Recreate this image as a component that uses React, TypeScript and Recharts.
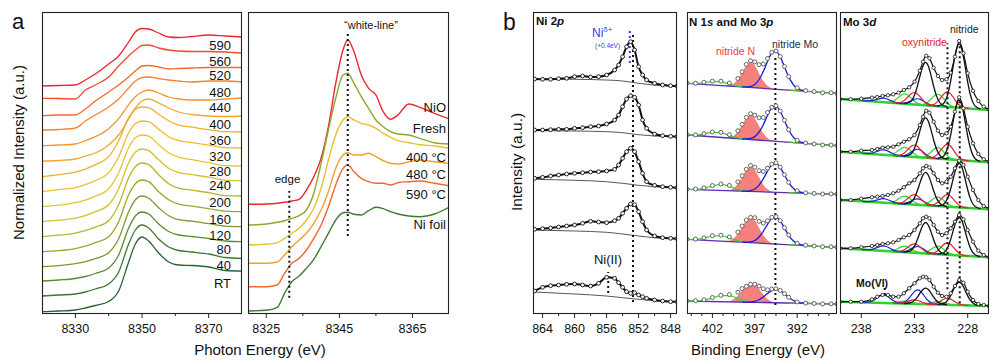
import React from 'react';
import { ComposedChart, Line, Area, XAxis, YAxis } from 'recharts';

const FONT = '"Liberation Sans", Arial, Helvetica, sans-serif';
const TOP = 12;
const H = 301;
const PAD = 14;

// ---- a (left): in situ Ni K-edge XANES vs temperature, stacked ----
const xanesE = [8320, 8325, 8330, 8333, 8336, 8340, 8343, 8346, 8348, 8350, 8352, 8355, 8358, 8361, 8365, 8370, 8375, 8380];
const tempNames = ['RT', '40', '80', '120', '160', '200', '240', '280', '320', '360', '400', '440', '480', '520', '560', '590'];
const tempShift = [1.3, 17, 32, 46.3, 61.3, 76.3, 91.3, 106.3, 121.3, 136.3, 152, 167.3, 183, 197.3, 214.7, 227];
const tempCurves = [
  [0, 0.7, 1.7, 3.7, 6.2, 10.2, 20.7, 49.7, 67.7, 74.7, 70.7, 58.7, 49.7, 46.7, 46.2, 44.7, 41.2, 40.7],
  [0, 1, 2, 4, 7, 12, 24, 52, 66, 71, 68, 57, 49, 45.5, 44, 42, 38.5, 37.7],
  [0, 1, 2.5, 4.5, 7.5, 13, 26, 53, 65, 69, 67, 57, 49.5, 46, 44.5, 42.5, 40, 39.3],
  [0, 1, 3, 5, 8, 14, 28, 55, 67, 70.7, 68.5, 59, 51, 47, 45.5, 43, 40.5, 40],
  [0, 1, 3, 5.5, 9, 15, 30, 57, 68, 71.7, 70, 60, 52, 47.5, 45.5, 43, 40.5, 40],
  [0, 1.5, 3.5, 6, 9.5, 16, 32, 59, 70, 73.7, 72, 62, 53, 48.5, 46.5, 44, 41, 40.7],
  [0, 1.5, 3.5, 6, 10, 17, 33, 59, 69.5, 72.7, 71, 62, 53.5, 49, 47, 44.5, 41.5, 41],
  [0, 1.5, 4, 6.5, 10.5, 18, 34, 59, 69, 71.7, 70.5, 62, 54, 49.5, 47, 44, 41, 40.7],
  [0, 2, 4, 7, 11, 19, 35, 59, 68, 70.7, 70, 62.5, 55, 51, 49, 46.5, 44, 43.7],
  [0, 2, 4.5, 7.5, 12, 20, 36, 59, 67.5, 69.7, 69, 62.5, 56, 51.5, 49.5, 47, 45, 44.7],
  [0, 0.5, 2, 5, 8, 16, 26, 42, 53, 60, 62, 58, 53, 49, 46.5, 45, 44.5, 45],
  [0, 0.7, 1.7, 5, 9, 17, 27, 41, 49, 53.7, 55.7, 52.7, 48.7, 46.7, 45.7, 45.7, 46.7, 47.7],
  [0, 0.5, 2, 9, 15, 23, 31, 42, 49, 52.5, 53, 51.5, 50, 49, 48, 49, 49, 48],
  [0, 0.7, 0.7, 6.7, 14.7, 23.7, 30.7, 38.7, 44.7, 49.7, 50.2, 48.7, 46.7, 47.2, 47.7, 48.2, 48.2, 48.2],
  [0, -0.2, -0.7, 8.3, 13.3, 21.3, 32.3, 42.3, 48.3, 52.8, 53.3, 50.3, 48.3, 47.3, 46.8, 46.8, 46.3, 45.3],
  [0, 0.5, 1, 6, 12, 22, 30, 44, 54, 57.5, 57, 53, 49, 48.5, 49.5, 51, 50, 49],
];
const tempColors = ['#2a6332', '#3f7730', '#5c8a2e', '#7a9a2c', '#97a92c', '#b6b72c', '#d3c22c', '#e6c62c', '#edbd2c', '#f0b12c', '#f3a52c', '#f4962c', '#f4842d', '#f36a2f', '#ef4c30', '#ea2630'];
const tempLabelY = [283.3, 265.7, 249.3, 235, 219, 202.7, 185.7, 171.7, 156.7, 140, 124, 107.7, 92.7, 75, 61.7, 45.7];

// ---- a (right): references and selected temperatures ----
const refE = [8320, 8325, 8328, 8330, 8332, 8334, 8336, 8338, 8340, 8342, 8344, 8346, 8347.3, 8349, 8351, 8353, 8355, 8357, 8359, 8361, 8364, 8367, 8371, 8375];
const refNames = ['NiO', 'Fresh', '400 °C', '480 °C', '590 °C', 'Ni foil'];
const refCurves = [
  [108.7, 109, 109.7, 110.7, 112, 113.7, 123, 136.3, 154.7, 186.3, 229.7, 263, 273, 261.3, 238, 224.7, 218, 201.3, 193.7, 198, 209, 205.7, 199.7, 194.3],
  [88, 89, 90.7, 92.3, 94.7, 97.3, 103, 119.7, 149.7, 183, 214.7, 238, 239.7, 229.7, 216.3, 204.7, 193, 186.3, 181.3, 179, 178, 174.7, 170.3, 169],
  [68, 68.7, 70.3, 74.7, 79.7, 84.7, 93, 104.7, 124.7, 153, 178, 193, 196.3, 193, 189.7, 188, 184.7, 179.7, 175.7, 172.3, 170.3, 168.3, 167, 164.7],
  [49.7, 49.7, 51, 58, 66.3, 73, 79.7, 89.7, 103, 121.3, 144.7, 158, 160.3, 158, 158, 159.7, 156.3, 152.3, 149.7, 149, 151.3, 153, 151.3, 149.7],
  [26.3, 26.3, 28, 39.7, 49.7, 54.7, 63, 74.7, 88, 106.3, 128, 144.7, 148, 141.3, 134.7, 131.3, 129.7, 129.7, 128, 130.3, 131.3, 132, 129.7, 127.3],
  [2, 2.7, 5.7, 19.7, 31.3, 37, 44.7, 53.7, 66.3, 79.7, 93, 100.3, 100.7, 98.7, 98, 102.3, 105.7, 104.3, 101.3, 99, 97, 96.3, 99, 105.7],
];
const refColors = ['#ea2630', '#8ea62e', '#e6c22c', '#f2a02c', '#f3662e', '#3f7a35'];
const refLabelY = [107, 128.7, 157.7, 174, 194.7, 224];

// ---- b: Ni 2p ----
const niE = [865, 864, 863, 862, 861, 860, 859, 858, 857, 856, 855, 854.5, 854, 853.5, 853, 852.5, 852, 851.5, 851, 850, 849, 848, 847.2];
const niData = [
  [234, 233.7, 233.7, 234.3, 234.7, 236.3, 237, 236, 236.3, 238, 243, 248, 256.3, 266.3, 271.3, 263, 246.3, 238, 233, 229.7, 228, 227.3, 227],
  [183, 183, 183.3, 183.7, 183.7, 184.7, 185.3, 186.3, 187, 189, 193, 198, 206.3, 214, 217.3, 215.7, 208, 193, 184.7, 179, 177.3, 176.7, 176.3],
  [134.7, 135.7, 137, 138, 139, 139.7, 140.3, 141, 141.3, 142, 143.7, 148, 154.7, 161.3, 164.7, 161.3, 151.3, 139.7, 131.3, 127.7, 126.3, 125.7, 125.3],
  [83.7, 84.3, 85, 86, 87, 88, 89.7, 91.7, 91, 90.3, 92.3, 94.7, 99.7, 104.7, 109, 108.3, 101.3, 91.3, 83, 77, 75.3, 74.7, 74.3],
  [22, 25.7, 27.3, 28, 28.7, 29, 28, 27, 29.7, 35.7, 34.7, 30.3, 25.7, 21.3, 19.7, 20.3, 18, 16.3, 14.7, 13, 12, 11.3, 11.3],
];
const niBgE = [865, 860, 856, 854, 852, 850, 847.2];
const niBg = [
  [234, 233.7, 233, 232, 229.7, 228, 227],
  [182.3, 182, 181.3, 180.3, 178.3, 177, 176.3],
  [133.7, 132.7, 131.3, 129.7, 127.7, 126.3, 125.3],
  [83, 82, 80.7, 79, 77, 75.3, 74.3],
  [21, 19, 17, 15.3, 13.7, 12.3, 11.3],
];

// ---- b: N 1s and Mo 3p (heights above a linear background) ----
const nE = [405, 404, 403, 402, 401, 400, 399, 398.5, 398, 397.5, 397, 396.5, 396, 395.5, 395, 394.5, 394, 393.5, 393, 392, 391, 390, 389, 388, 387.3];
const nBg = [[229.7, 219.7], [178, 167.3], [123.7, 118.7], [73.7, 65.7], [12, 9]];
const nRed = [
  [0, 0, 0, 0, 0, 0.8, 7.4, 14.7, 22.3, 25.6, 22.3, 14.7, 7.4, 2.8, 0.8, 0.2, 0, 0, 0, 0, 0, 0, 0, 0, 0],
  [0, 0, 0, 0, 0, 0.7, 7.1, 14.1, 21.3, 24.5, 21.3, 14.1, 7.1, 2.7, 0.7, 0.2, 0, 0, 0, 0, 0, 0, 0, 0, 0],
  [0, 0, 0, 0, 0, 0.7, 7.2, 14.2, 21.5, 24.7, 21.5, 14.2, 7.2, 2.7, 0.7, 0.2, 0, 0, 0, 0, 0, 0, 0, 0, 0],
  [0, 0, 0, 0, 0, 0.9, 8.5, 15.5, 22, 24.2, 22.5, 15.5, 8, 3.2, 1, 0.3, 0, 0, 0, 0, 0, 0, 0, 0, 0],
  [0, 0, 0, 0, 0, 0.8, 6.2, 11.5, 15.5, 17.3, 16.8, 13.5, 8, 3.6, 1.2, 0.3, 0, 0, 0, 0, 0, 0, 0, 0, 0],
];
const nBlue = [
  [0, 0, 0, 0, 0, 0, 0, 0.1, 0.3, 1.1, 3.4, 8.6, 16.9, 27.2, 35.6, 37.8, 32.8, 23, 13.2, 2.3, 0.2, 0, 0, 0, 0],
  [0, 0, 0, 0, 0, 0, 0, 0.1, 0.3, 1.1, 3.2, 7.9, 15.7, 25.3, 33, 35.2, 30.4, 21.4, 12.2, 2.2, 0.2, 0, 0, 0, 0],
  [0, 0, 0, 0, 0, 0, 0, 0.1, 0.2, 0.9, 2.6, 6.5, 12.9, 20.8, 27.1, 28.9, 25, 17.6, 10, 1.8, 0.1, 0, 0, 0, 0],
  [0, 0, 0, 0, 0, 0, 0, 0.1, 0.2, 0.8, 2.4, 6.1, 12, 19.3, 25.3, 26.9, 23.3, 16.4, 9.4, 1.6, 0.1, 0, 0, 0, 0],
  [0, 0, 0, 0, 0, 0, 0, 0, 0.1, 0.4, 1.1, 2.7, 5.5, 9, 12.2, 13.5, 12.2, 9, 5.5, 1.1, 0.1, 0, 0, 0, 0],
];
const nGreen = [
  [0, 0.4, 1.8, 3.6, 3.8, 2, 0.6, 0.2, 0],
  [0, 0.5, 2.3, 4.5, 4.8, 2.5, 0.7, 0.3, 0],
  [0, 0.3, 1.6, 4.2, 6, 4.4, 1.7, 0.8, 0.3],
  [0, 0.4, 2, 4.6, 5.5, 3.5, 1.2, 0.5, 0.2],
  [0, 0.2, 1.2, 3.6, 6, 6.2, 3.4, 1.8, 0.8],
];
const nData = [
  [0.3, 0.6, 2.2, 3.8, 4.4, 3.1, 8.2, 15.2, 22.8, 26.8, 25.9, 23.5, 24.5, 30.2, 36.6, 38.2, 33, 23.3, 13.5, 2.8, 0.6, 0.2, -0.4, 0.2, 0],
  [0.2, 0.8, 2.6, 4.8, 5.1, 3.4, 7.9, 14.6, 21.8, 25.8, 24.7, 22.3, 23, 28.2, 33.8, 35.6, 30.6, 21.7, 12.6, 2.6, 0.5, 0.1, -0.3, 0.2, 0],
  [0.1, 0.6, 2, 4.6, 6.4, 5.3, 9.1, 15.3, 22, 26, 24.4, 21, 20.4, 23.8, 28, 29.4, 25.3, 17.8, 10.4, 2.2, 0.4, 0.1, -0.2, 0.2, 0],
  [0.2, 0.7, 2.4, 5, 5.9, 4.6, 9.9, 16.2, 22.4, 25.3, 25.2, 21.8, 20.3, 22.8, 26.5, 27.4, 23.6, 16.7, 9.8, 2, 0.3, 0.1, -0.2, 0.2, 0],
  [0.1, 0.5, 1.6, 4, 6.4, 7.3, 9.8, 13.5, 15.9, 18, 18.1, 16.4, 13.8, 12.8, 13.6, 14, 12.5, 9.3, 5.8, 1.3, 0.3, 0.1, -0.2, 0.1, 0],
];

// ---- b: Mo 3d ----
const moE = [240, 239, 238, 237, 236.5, 236, 235.5, 235, 234.5, 234, 233.5, 233, 232.5, 232.2, 231.9, 231.6, 231.2, 230.8, 230.4, 230, 229.6, 229.2, 228.8, 228.4, 228, 227.5, 227, 226.5, 226];
const moData = [
  [214, 213.7, 214.3, 215.3, 216, 217, 217.7, 218.7, 220.3, 223, 225.7, 231.3, 242.3, 251.3, 257.3, 254.7, 245.3, 237, 233, 233.7, 240.3, 256.3, 272, 259.7, 239.7, 222.3, 212, 206.3, 203.7],
  [161.3, 161.3, 162.3, 163, 164, 165.3, 165.7, 166.3, 168.7, 171.3, 173.7, 178, 188, 196.3, 202.3, 200.3, 191.3, 182.3, 178, 179.7, 186.3, 201.3, 215.7, 204.7, 186.3, 169.7, 159, 153.7, 151.3],
  [113, 113, 114.3, 115.7, 116.3, 117, 118, 119.7, 122.3, 125.7, 129.7, 133, 139.7, 144.7, 147, 145.7, 139.7, 133, 129.7, 131.3, 136.3, 144.7, 152.3, 148, 136.3, 123, 113, 107, 104.7],
  [64.7, 64.7, 65.7, 67, 68, 69, 69.7, 70.7, 73, 75.7, 78, 83, 89.7, 94.7, 96.3, 94.7, 88, 81.3, 78, 79.7, 84.7, 91.3, 98, 93.7, 83, 71.3, 62.3, 58, 55.7],
  [11.3, 11.3, 11.3, 13.7, 16.3, 18, 18, 16.3, 16.3, 19.7, 24.7, 29.7, 34.7, 36.3, 35.7, 33, 26.3, 20.3, 17, 16.3, 19.7, 27, 33, 30.3, 21.3, 13, 9, 8, 7],
];
const moBg = [[214, 203], [161.3, 150.7], [113, 103.7], [64.7, 55.7], [11.3, 7]];
// fitted components: nitride 5/2, 3/2 | oxynitride | green doublet | Mo(VI)
const moCenters = [228.8, 231.95, 229.9, 233.0, 230.8, 233.9, 232.7, 235.9];
const moKinds = ['n', 'n', 'r', 'r', 'g', 'g', 'b', 'b'];
const moHeights = [
  [64, 43, 15, 12, 12, 10, 6, 4],
  [60, 40, 15, 12, 11, 9, 8, 5],
  [44, 33, 12, 10, 9, 8, 6, 4],
  [38, 31, 12, 9, 8, 6, 6.5, 5],
  [23, 16, 6.5, 4, 3, 2.5, 14, 8],
];
const peakOff = [-2, -1.5, -1, -0.75, -0.5, -0.25, 0, 0.25, 0.5, 0.75, 1, 1.5, 2];
const peakShape = [0.004, 0.044, 0.249, 0.458, 0.707, 0.917, 1, 0.917, 0.707, 0.458, 0.249, 0.044, 0.004];
const kindColor: Record<string, string> = { n: '#111111', r: '#e8202a', g: '#2fd82f', b: '#1f22d8' };

const pts = (xs: number[], ys: number[]) => xs.map((x, i) => ({ x, y: ys[i] }));

const nBgAt = (s: number, e: number) => nBg[s][0] + (nBg[s][1] - nBg[s][0]) * (405 - e) / (405 - 387.3);
const moBgAt = (s: number, e: number) => moBg[s][0] + (moBg[s][1] - moBg[s][0]) * (240 - e) / 14;

const line = (key: string, data: any[], color: string, width = 1.3, extra: any = {}) => (
  <Line
    key={key}
    data={data}
    dataKey="y"
    type="monotone"
    stroke={color}
    strokeWidth={width}
    dot={false}
    activeDot={false}
    isAnimationActive={false}
    {...extra}
  />
);

const dotted = (key: string, x: number, y0: number, y1: number, color = '#111') =>
  line(key, [{ x, y: y0 }, { x, y: y1 }], color, 2, { type: 'linear', strokeDasharray: '2 3' });

function axisTick(labels: number[]) {
  return (p: any) => {
    const v = p.payload.value;
    const major = labels.indexOf(v) >= 0;
    return (
      <g>
        <line x1={p.x} x2={p.x} y1={p.y} y2={p.y + (major ? 5 : 3)} stroke="#222" strokeWidth={1} />
        {major ? (
          <text x={p.x} y={p.y + 20} textAnchor="middle" fontSize={12.5} fontFamily={FONT} fill="#111">
            {v}
          </text>
        ) : null}
      </g>
    );
  };
}

function Plot({ left, width, domain, reversed, ticks, labels, children }: any) {
  return (
    <div style={{ position: 'absolute', left: left - PAD, top: TOP }}>
      <ComposedChart width={width + 2 * PAD} height={H + 34} margin={{ top: 0, right: PAD, bottom: 0, left: PAD }}>
        <XAxis
          dataKey="x"
          type="number"
          domain={domain}
          reversed={reversed}
          allowDataOverflow
          ticks={ticks}
          interval={0}
          height={34}
          axisLine={false}
          tickLine={false}
          tickSize={0}
          tickMargin={0}
          tick={axisTick(labels)}
        />
        <YAxis type="number" domain={[0, H]} hide allowDataOverflow />
        {children}
      </ComposedChart>
    </div>
  );
}

const frames = [
  [42, 200],
  [248, 201],
  [533, 144],
  [687, 150],
  [840, 149],
];

export default function App() {
  const tempSeries = tempCurves.map((c, i) =>
    line(`t${i}`, xanesE.map((x, j) => ({ x, y: tempShift[i] + c[j] })), tempColors[i], 1.3)
  );

  const refSeries = refCurves.map((c, i) => line(`r${i}`, pts(refE, c), refColors[i], 1.4));

  const niSeries = niData.flatMap((s, i) => [
    line(`nb${i}`, pts(niBgE, niBg[i]), '#444', 0.9),
    line(`nd${i}`, pts(niE, s), '#111', 2, {
      dot: { r: 1.9, stroke: '#111', strokeWidth: 0.9, fill: '#fff' },
    }),
  ]);

  const nSeries = nData.flatMap((d, s) => [
    <Area
      key={`na${s}`}
      data={nE.map((e, j) => ({ x: e, y: [nBgAt(s, e), nBgAt(s, e) + nRed[s][j]] }))}
      dataKey="y"
      type="monotone"
      stroke="none"
      fill="#f4817e"
      fillOpacity={1}
      isAnimationActive={false}
      activeDot={false}
    />,
    line(`np${s}`, [{ x: 405, y: nBg[s][0] }, { x: 387.3, y: nBg[s][1] }], '#5a2cb0', 1.3, { type: 'linear' }),
    line(`ngl${s}`, nE.slice(0, 9).map((e, j) => ({ x: e, y: nBgAt(s, e) + nGreen[s][j] })), '#33d633', 1.3),
    line(`ngr${s}`, nE.slice(18).map((e) => ({ x: e, y: nBgAt(s, e) })), '#55b83a', 1.3),
    line(`nbl${s}`, nE.slice(7, 21).map((e, j) => ({ x: e, y: nBgAt(s, e) + nBlue[s][j + 7] })), '#1a1ae0', 1.3),
    line(`nd${s}`, nE.map((e, j) => ({ x: e, y: nBgAt(s, e) + d[j] })), 'none', 0, {
      dot: { r: 2, stroke: '#555', strokeWidth: 0.9, fill: '#fff' },
    }),
  ]);

  const order = ['g', 'b', 'r', 'n'];
  const moSeries = moData.flatMap((d, s) => {
    const out: any[] = [line(`mb${s}`, [{ x: 240, y: moBg[s][0] }, { x: 226, y: moBg[s][1] }], '#2fcf2f', 2.6, { type: 'linear' })];
    order.forEach((kind) => {
      moCenters.forEach((c, k) => {
        if (moKinds[k] !== kind) return;
        const data = peakOff.map((o, j) => ({ x: c + o, y: moBgAt(s, c + o) + moHeights[s][k] * peakShape[j] }));
        out.push(line(`mc${s}-${k}`, data, kindColor[kind], kind === 'n' ? 1.3 : 1.2));
      });
    });
    out.push(
      line(`md${s}`, pts(moE, d), '#111', 1.2, {
        dot: { r: 1.7, stroke: '#111', strokeWidth: 0.8, fill: '#fff' },
      })
    );
    return out;
  });

  return (
    <div style={{ position: 'absolute', left: 0, top: 0, width: 1000, height: 364, background: '#fff', fontFamily: FONT }}>
      <Plot left={42} width={200} domain={[8320, 8380]} ticks={[8330, 8340, 8350, 8360, 8370]} labels={[8330, 8350, 8370]}>
        {tempSeries}
      </Plot>
      <Plot left={248} width={201} domain={[8320, 8375]} ticks={[8325, 8335, 8345, 8355, 8365]} labels={[8325, 8345, 8365]}>
        {refSeries}
        {dotted('edge', 8331.3, 15.3, 122)}
        {dotted('wl', 8347.3, 77, 281.3)}
      </Plot>
      <Plot left={533} width={144} domain={[847.2, 865.2]} reversed ticks={[864, 862, 860, 858, 856, 854, 852, 850, 848]} labels={[864, 860, 856, 852, 848]}>
        {niSeries}
        {dotted('ni0', 852.7, 11, 281)}
        {dotted('ni1', 853.1, 250, 285, '#3a3af0')}
        {dotted('ni2', 855.8, 20, 41)}
      </Plot>
      <Plot left={687} width={150} domain={[387.3, 405]} reversed ticks={[404.5, 403.25, 402, 400.75, 399.5, 398.25, 397, 395.75, 394.5, 393.25, 392, 390.75, 389.5, 388.25]} labels={[402, 397, 392]}>
        {nSeries}
        {dotted('n0', 394.57, 8, 256.3)}
      </Plot>
      <Plot left={840} width={149} domain={[226, 240]} reversed ticks={[238, 233, 228]} labels={[238, 233, 228]}>
        {moSeries}
        {dotted('m0', 229.9, 23.7, 269.7)}
        {dotted('m1', 228.75, 9.7, 274.7)}
        {dotted('m2', 235.8, 18, 26.3)}
      </Plot>

      <svg width={1000} height={364} style={{ position: 'absolute', left: 0, top: 0, pointerEvents: 'none' }} fontFamily={FONT}>
        {frames.map(([x, w], i) => (
          <rect key={i} x={x + 0.5} y={TOP + 0.5} width={w - 1} height={H} fill="none" stroke="#222" strokeWidth={1.1} />
        ))}

        <text x={12} y={29} fontSize={22} fill="#111">a</text>
        <text x={503} y={30} fontSize={23} fill="#111">b</text>

        <text transform="translate(24,152.5) rotate(-90)" textAnchor="middle" fontSize={15} fill="#111">Normalized Intensity (a.u.)</text>
        <text transform="translate(521.5,162) rotate(-90)" textAnchor="middle" fontSize={15.5} fill="#111">Intensity (a.u.)</text>
        <text x={260} y={355} textAnchor="middle" fontSize={15} fill="#111">Photon Energy (eV)</text>
        <text x={758} y={355} textAnchor="middle" fontSize={15} fill="#111">Binding Energy (eV)</text>

        {tempNames.map((n, i) => (
          <text key={n} x={231} y={tempLabelY[i] + 4.6} textAnchor="end" fontSize={13} fill="#111">{n}</text>
        ))}
        {refNames.map((n, i) => (
          <text key={n} x={446} y={refLabelY[i] + 4.6} textAnchor="end" fontSize={13} fill="#111">{n}</text>
        ))}
        <text x={287.5} y={183} textAnchor="middle" fontSize={11.5} fill="#111">edge</text>
        <text x={371} y={29} textAnchor="middle" fontSize={11} fill="#111">“white-line”</text>

        <text x={536} y={25} fontSize={11.5} fontWeight="bold" fill="#111">Ni 2<tspan fontStyle="italic">p</tspan></text>
        <text x={592} y={37} fontSize={12} fill="#3b3bf0">Ni<tspan dy={-5} fontSize={8}>δ+</tspan></text>
        <text x={595} y={48} fontSize={6.5} fill="#3b3bf0">(+0.4eV)</text>
        <text x={608} y={264} textAnchor="middle" fontSize={13} fill="#111">Ni(II)</text>

        <text x={689} y={26} fontSize={11.5} fontWeight="bold" fill="#111">N 1<tspan fontStyle="italic">s</tspan> and Mo 3<tspan fontStyle="italic">p</tspan></text>
        <text x={716} y={55} fontSize={10.5} fill="#f03a3a">nitride N</text>
        <text x={772} y={48} fontSize={10.5} fill="#1c2b4a">nitride Mo</text>

        <text x={843} y={26} fontSize={11.5} fontWeight="bold" fill="#111">Mo 3<tspan fontStyle="italic">d</tspan></text>
        <text x={950} y={33} fontSize={10.5} fill="#222">nitride</text>
        <text x={902} y={46} fontSize={10.5} fill="#e8202a">oxynitride</text>
        <text x={856} y={287} fontSize={10.5} fontWeight="bold" fill="#111">Mo(VI)</text>
      </svg>
    </div>
  );
}
